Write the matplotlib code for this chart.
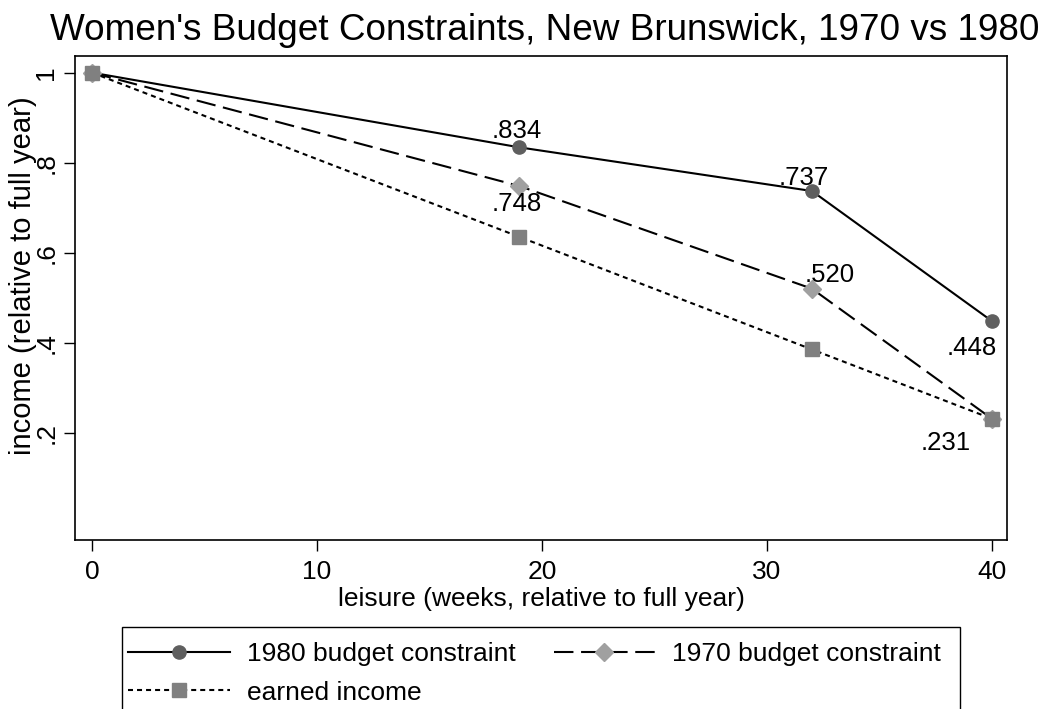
import matplotlib
matplotlib.use("Agg")
import matplotlib.pyplot as plt
from matplotlib.lines import Line2D
from matplotlib.patches import Rectangle

plt.rcParams['font.family'] = ['Liberation Sans', 'DejaVu Sans']
plt.rcParams['lines.scale_dashes'] = False

# ---- data ----
leisure = [0, 19, 32, 40]
budget_1980 = [1.0, 0.834, 0.737, 0.448]
budget_1970 = [1.0, 0.748, 0.520, 0.231]
earned_income = [1.0, 0.635, 0.385, 0.231]
labels_1980 = ["", ".834", ".737", ".448"]
labels_1970 = ["", ".748", ".520", ".231"]
xticks = [0, 10, 20, 30, 40]
yticks = [0.2, 0.4, 0.6, 0.8, 1.0]
ytick_labels = [".2", ".4", ".6", ".8", "1"]
series_names = ["1980 budget constraint", "1970 budget constraint", "earned income"]
title = "Women's Budget Constraints, New Brunswick, 1970 vs 1980"
xlabel = "leisure (weeks, relative to full year)"
ylabel = "income (relative to full year)"

# ---- layout (pixels) ----
W, H = 1043, 709
fig = plt.figure(figsize=(W / 100, H / 100), dpi=100)
L, R, T, B = 75, 1007, 56, 540
ax = fig.add_axes([L / W, 1 - B / H, (R - L) / W, (B - T) / H])

FS = 19
FSL = 18.5
c1980, c1970, cearn = "#5f5f5f", "#a0a0a0", "#808080"
ls1980 = "-"
ls1970 = (0, (14, 5.5))
lsearn = (0, (3.6, 2.9))

ax.plot(leisure, budget_1980, color="black", lw=1.5, ls=ls1980,
        marker="o", ms=9.5, mfc=c1980, mec=c1980, zorder=3)
ax.plot(leisure, budget_1970, color="black", lw=1.5, ls=ls1970,
        marker="D", ms=9.5, mfc=c1970, mec=c1970, zorder=3)
ax.plot(leisure, earned_income, color="black", lw=1.5, ls=lsearn,
        marker="s", ms=10, mfc=cearn, mec=cearn, zorder=3)

offs_1980 = [(0, 0), (-3, 16), (-8, 13), (-20, -27)]
offs_1970 = [(0, 0), (-3, -17.5), (18, 13.5), (-46, -24.5)]
for x, y, t, o in zip(leisure, budget_1980, labels_1980, offs_1980):
    if t:
        ax.annotate(t, (x, y), xytext=o, textcoords="offset pixels",
                    ha="center", va="center", fontsize=FSL, zorder=5)
for x, y, t, o in zip(leisure, budget_1970, labels_1970, offs_1970):
    if t:
        ax.annotate(t, (x, y), xytext=o, textcoords="offset pixels",
                    ha="center", va="center", fontsize=FSL, zorder=5)

ax.set_xlim(-0.756, 40.67)
ax.set_ylim(-0.0384, 1.037)
ax.set_xticks(xticks)
ax.set_xticklabels([str(v) for v in xticks], fontsize=FS)
ax.set_yticks(yticks)
ax.set_yticklabels(ytick_labels, fontsize=FS, rotation=90, va="center")
ax.tick_params(axis="both", direction="out", length=8, width=1)
ax.tick_params(axis="x", pad=6.5)
ax.tick_params(axis="y", pad=4)
for s in ax.spines.values():
    s.set_linewidth(1.2)

fig.text(0.5 * (L + R) / W, 1 - 599 / H, xlabel, ha="center", va="center", fontsize=FS)
fig.text(23 / W, 1 - 276 / H, ylabel, ha="center", va="center", rotation=90, fontsize=21)
fig.text(1040 / W, 1 - 40 / H, title, ha="right", va="baseline", fontsize=26.6)

# legend (column-major order: col1 = 1980, earned; col2 = 1970)
h1980 = Line2D([], [], color="black", lw=1.5, ls=ls1980, marker="o", ms=9.5, mfc=c1980, mec=c1980)
h1970 = Line2D([], [], color="black", lw=1.5, ls=ls1970, marker="D", ms=9.5, mfc=c1970, mec=c1970)
hearn = Line2D([], [], color="black", lw=1.5, ls=lsearn, marker="s", ms=10, mfc=cearn, mec=cearn)
leg = fig.legend([h1980, hearn, h1970], [series_names[0], series_names[2], series_names[1]],
                 ncol=2, loc="upper left",
                 bbox_to_anchor=(128 / W, 1 - 642 / H), frameon=False,
                 fontsize=FS, handlelength=3.86, handletextpad=0.64,
                 columnspacing=1.44, labelspacing=0.55, borderpad=0, borderaxespad=0,
                 numpoints=1)
fig.patches.append(Rectangle((122 / W, -0.05), (960 - 122) / W, 0.05 + 1 - 627 / H,
                             transform=fig.transFigure, fill=False,
                             edgecolor="black", lw=1.0))

fig.savefig("out.png", dpi=100)
